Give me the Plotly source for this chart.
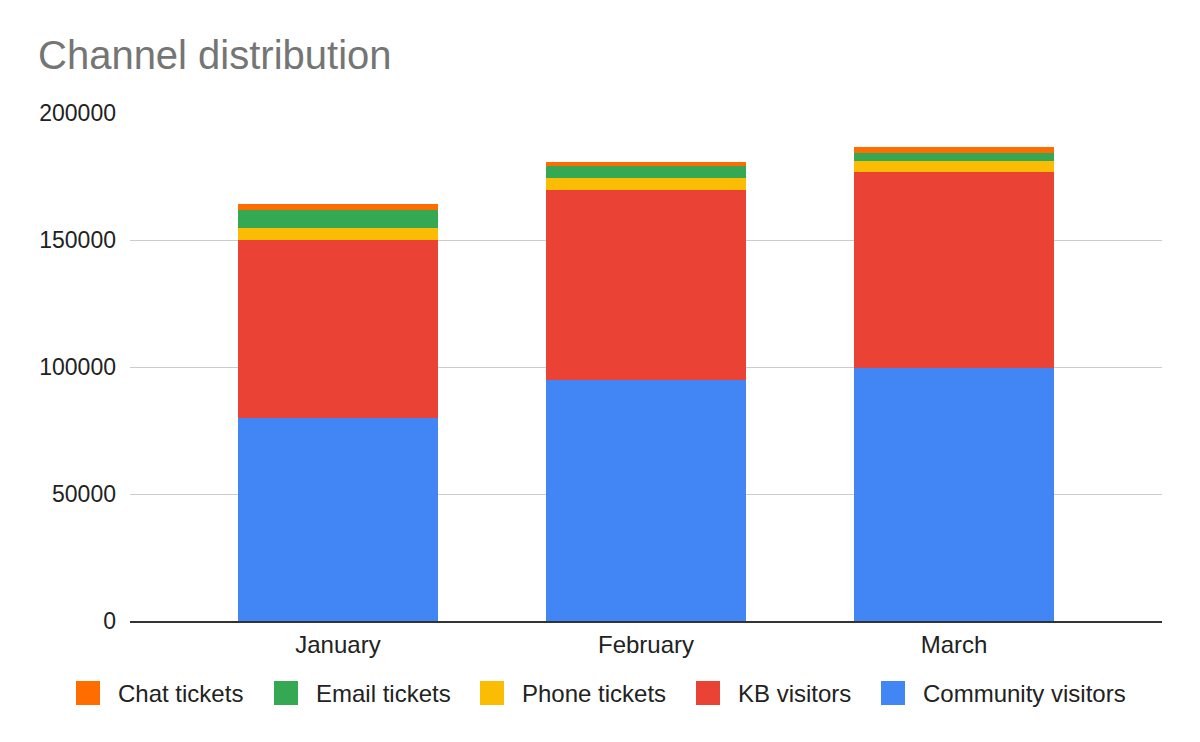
import plotly.graph_objects as go

months = ["January", "February", "March"]
community_visitors = [80000, 95000, 99600]
kb_visitors = [70000, 74600, 77000]
phone_tickets = [4700, 4700, 4700]
email_tickets = [7100, 4700, 3100]
chat_tickets = [2300, 1600, 2400]

series = [
    ("Community visitors", community_visitors, "#4285F4"),
    ("KB visitors", kb_visitors, "#EA4335"),
    ("Phone tickets", phone_tickets, "#FBBC04"),
    ("Email tickets", email_tickets, "#34A853"),
    ("Chat tickets", chat_tickets, "#FF6D01"),
]

FONT = "Liberation Sans, Arial, sans-serif"
OFF = 8  # browser body margin

# plot area in page pixels
PX0, PX1, PY0, PY1 = 130, 1162, 113, 621


def px_to_paper_x(px):
    return (px - PX0) / (PX1 - PX0)


def py_to_paper_y(py):
    return (PY1 - py) / (PY1 - PY0)


fig = go.Figure()
for name, vals, color in series:
    fig.add_trace(go.Bar(
        x=months, y=vals, name=name,
        marker=dict(color=color, line=dict(width=0)),
        showlegend=False,
    ))

# custom legend (large rounded-ish swatches as in the reference)
legend_square_left = [76, 274, 480, 696, 881]
SQ = 24
LEG_CY = 693
shapes = []
annotations = []
for (name, vals, color), sx in zip(reversed(series), legend_square_left):
    shapes.append(dict(
        type="rect", xref="paper", yref="paper",
        x0=px_to_paper_x(sx), x1=px_to_paper_x(sx + SQ),
        y0=py_to_paper_y(LEG_CY - SQ / 2), y1=py_to_paper_y(LEG_CY + SQ / 2),
        fillcolor=color, line=dict(width=0), layer="above",
    ))
    annotations.append(dict(
        text=name, xref="paper", yref="paper",
        x=px_to_paper_x(sx + SQ + 16), y=py_to_paper_y(LEG_CY),
        xanchor="left", yanchor="middle", showarrow=False,
        font=dict(family=FONT, size=24, color="#222222"),
    ))

fig.update_layout(
    width=1200, height=742,
    barmode="stack",
    bargap=0.35,
    paper_bgcolor="white",
    plot_bgcolor="white",
    showlegend=False,
    margin=dict(l=PX0 - OFF, r=1200 - PX1 + OFF, t=PY0 - OFF, b=742 - PY1 + OFF,
                autoexpand=False),
    font=dict(family=FONT, size=24, color="#222222"),
    title=dict(
        text="Channel distribution",
        x=(38 - OFF) / 1200, xref="container", xanchor="left",
        y=1 - (55 - OFF) / 742, yref="container", yanchor="middle",
        font=dict(family=FONT, size=40, color="#757575"),
    ),
    shapes=shapes,
    annotations=annotations,
    xaxis=dict(
        range=[-0.675, 2.675],
        showgrid=False,
        showline=True, linecolor="#333333", linewidth=1.5,
        ticks="", tickfont=dict(size=24, color="#222222"),
        ticklabelstandoff=1,
    ),
    yaxis=dict(
        range=[0, 200000],
        dtick=50000,
        tickformat="d",
        showgrid=True, gridcolor="#cccccc", gridwidth=1,
        zeroline=False,
        showline=False,
        ticks="",
        ticklabelstandoff=13,
        tickfont=dict(size=23, color="#222222"),
    ),
)

fig.write_html("out.html")
